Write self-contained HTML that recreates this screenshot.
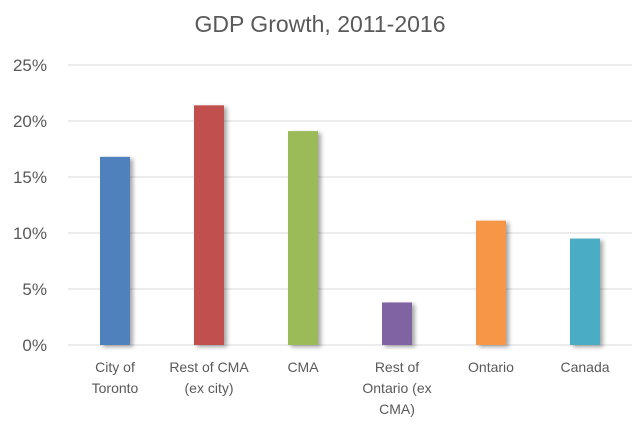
<!DOCTYPE html>
<html><head><meta charset="utf-8"><style>
body{margin:0;background:#fff;font-family:"Liberation Sans",sans-serif}
</style></head><body>
<svg id="chart" width="641" height="428" xmlns="http://www.w3.org/2000/svg">
<defs><filter id="sh" x="-20%" y="-5%" width="160%" height="115%"><feDropShadow dx="3" dy="2" stdDeviation="2" flood-color="#000" flood-opacity="0.35"/></filter></defs>
<text x="320" y="32" text-anchor="middle" font-size="23" fill="#595959">GDP Growth, 2011-2016</text>
<g id="grid"></g><g id="bars"></g><g id="labels"></g>
</svg>
<script>
const categories=[["City of","Toronto"],["Rest of CMA","(ex city)"],["CMA"],["Rest of","Ontario (ex","CMA)"],["Ontario"],["Canada"]];
const values=[16.8,21.4,19.1,3.8,11.1,9.5];
const colors=["#4f81bd","#c0504d","#9bbb59","#8064a2","#f79646","#4bacc6"];
const ticks=[0,5,10,15,20,25];
const tickLabels=["0%","5%","10%","15%","20%","25%"];
const NS="http://www.w3.org/2000/svg";
const L=68,R=632,Y0=345,Y1=65,MAX=25;
const y=v=>Y0-(v/MAX)*(Y0-Y1);
const bw=(R-L)/categories.length;
const x=i=>L+bw*(i+0.5);
function mk(t,a,p){const e=document.createElementNS(NS,t);for(const k in a)e.setAttribute(k,a[k]);p.appendChild(e);return e;}
const g=document.getElementById('grid'),b=document.getElementById('bars'),lb=document.getElementById('labels');
ticks.forEach((t,i)=>{
 const ln=mk('line',{x1:L,x2:R,y1:y(t),y2:y(t),stroke:'#d9d9d9','stroke-width':1},g);
 
 
 const tx=mk('text',{x:47,y:y(t)+6,'text-anchor':'end','font-size':17,fill:'#595959'},g);
 tx.textContent=tickLabels[i];
 
 
});
values.forEach((v,i)=>{
 const r=mk('rect',{x:x(i)-15,y:y(v),width:30,height:Y0-y(v),fill:colors[i],filter:'url(#sh)'},b);
 
 
 categories[i].forEach((s,j)=>{
  const t=mk('text',{x:x(i),y:372+j*21,'text-anchor':'middle','font-size':14,fill:'#595959'},lb);
  t.textContent=s;
  
  
 });
});
</script>
</body></html>
